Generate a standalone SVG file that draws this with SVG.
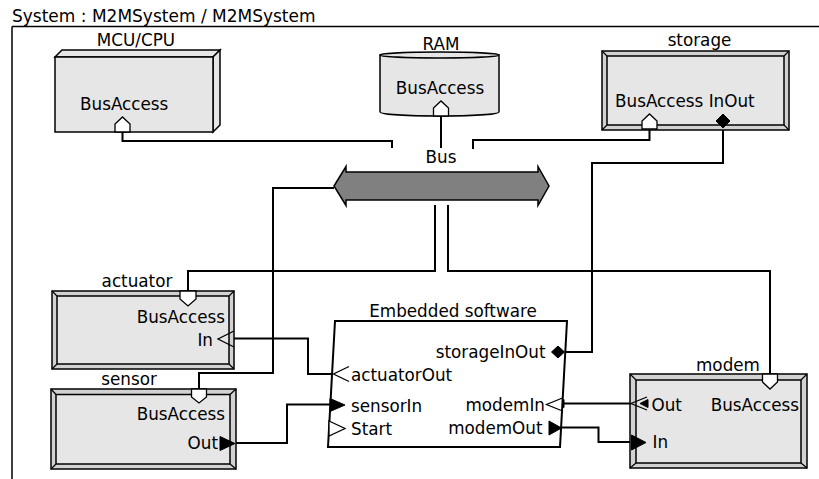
<svg xmlns="http://www.w3.org/2000/svg" width="819" height="479" viewBox="0 0 819 479">
  <style>
    text { font-family: "DejaVu Sans", "Liberation Sans", sans-serif; font-size: 16.8px; fill: #000; }
    .mid { text-anchor: middle; }
    .end { text-anchor: end; }
    .face { fill: #e6e6e6; stroke: #000; stroke-width: 1.5; }
    .bevel { fill: #d2d2d2; stroke: #000; stroke-width: 1.5; }
    .edge { fill: none; stroke: #000; stroke-width: 1.2; }
    .port { fill: #fff; stroke: #000; stroke-width: 1.3; }
    .open { fill: none; stroke: #000; stroke-width: 1.3; }
    .solid { fill: #000; stroke: #000; stroke-width: 1; }
    .wire { fill: none; stroke: #000; stroke-width: 2; }
  </style>

  <!-- system frame -->
  <g id="frame">
    <text x="12" y="22" style="font-size:17px">System : M2MSystem / M2MSystem</text>
    <path d="M12,26.5 H819 M12,26.5 V479" fill="none" stroke="#000" stroke-width="1.5"/>
  </g>

  <!-- connectors -->
  <g id="connectors" class="wire">
    <polyline class="wire" points="122.5,132 122.5,141 392,141 392,148"/>
    <polyline class="wire" points="441,116 441,148"/>
    <polyline class="wire" points="649.5,129 649.5,140 473,140 473,149"/>
    <polyline class="wire" points="723,128 723,163 592,163 592,352 564.5,352"/>
    <polyline class="wire" points="334,188 273,188 273,373 199,373 199,389"/>
    <polyline class="wire" points="435,205 435,271 188,271 188,291"/>
    <polyline class="wire" points="448,205 448,271 770,271 770,374"/>
    <polyline class="wire" points="333.5,374 308,374 308,338.5 234,338.5"/>
    <polyline class="wire" points="235,443 287,443 287,404.5 330,404.5"/>
    <polyline class="wire" points="631,403.5 563,403.5"/>
    <polygon class="solid" points="556,403.5 564,399.5 564,407.5"/>
    <polyline class="wire" points="561.5,427.5 598.5,427.5 598.5,442 631.5,442"/>
  </g>

  <!-- MCU/CPU -->
  <g id="mcu">
    <polygon class="face" points="55,57 62,50 220,50 213,57"/>
    <polygon class="face" points="213,57 220,50 220,125 213,132"/>
    <rect class="face" x="55" y="57" width="158" height="75"/>
    <text class="mid" x="136" y="46">MCU/CPU</text>
    <text x="80" y="110">BusAccess</text>
    <polygon class="port" points="115,132 115,124 122.5,117 130,124 130,132"/>
  </g>

  <!-- RAM -->
  <g id="ram">
    <path class="face" d="M380,55 V112 A59.5,4 0 0 0 499,112 V55 Z"/>
    <ellipse class="face" cx="439.5" cy="55" rx="59.5" ry="3"/>
    <text class="mid" x="441" y="50">RAM</text>
    <text class="mid" x="440" y="94">BusAccess</text>
    <polygon class="port" points="433.5,116 433.5,108 441,101 448.5,108 448.5,116"/>
  </g>

  <!-- storage -->
  <g id="storage">
    <rect class="bevel" x="602" y="51" width="187" height="79"/>
    <rect class="face" x="607" y="56" width="177" height="69"/>
    <path class="edge" d="M602,51 L607,56 M789,51 L784,56 M602,130 L607,125 M789,130 L784,125"/>
    <text class="mid" x="699.5" y="46">storage</text>
    <text x="615" y="107">BusAccess InOut</text>
    <polygon class="port" points="642,129 642,121 649.5,114 657,121 657,129"/>
    <polygon class="solid" points="723,114 730,121 723,128 716,121"/>
  </g>

  <!-- Bus -->
  <g id="bus">
    <polygon points="334,186 346,166.5 346,172 538,172 538,166.5 549,186 538,205.5 538,200 346,200 346,205.5" fill="#808080" stroke="#000" stroke-width="1.5"/>
    <text class="mid" x="441" y="163">Bus</text>
  </g>

  <!-- actuator -->
  <g id="actuator">
    <rect class="bevel" x="52" y="291" width="182" height="78"/>
    <rect class="face" x="57" y="296" width="172" height="68"/>
    <path class="edge" d="M52,291 L57,296 M234,291 L229,296 M52,369 L57,364 M234,369 L229,364"/>
    <text class="mid" x="137" y="287">actuator</text>
    <text class="end" x="225" y="323">BusAccess</text>
    <text class="end" x="213" y="346">In</text>
    <polygon class="port" points="180,291 196,291 196,299 188,306 180,299"/>
    <polyline class="open" points="234,331 218,339 234,347"/>
  </g>

  <!-- sensor -->
  <g id="sensor">
    <rect class="bevel" x="51" y="389" width="185" height="80"/>
    <rect class="face" x="56" y="394.5" width="174" height="69.5"/>
    <path class="edge" d="M51,389 L56,394.5 M236,389 L230,394.5 M51,469 L56,464 M236,469 L230,464"/>
    <text class="mid" x="129" y="385">sensor</text>
    <text class="end" x="225" y="420">BusAccess</text>
    <text class="end" x="218" y="449">Out</text>
    <polygon class="port" points="191.5,389 206.5,389 206.5,397 199,403 191.5,397"/>
    <polygon class="solid" points="220,436.5 235,443.5 220,450.5"/>
  </g>

  <!-- Embedded software -->
  <g id="embedded">
    <polygon points="335,321 567,321 560,447 328,447" fill="#fff" stroke="#000" stroke-width="2"/>
    <text class="mid" x="453" y="317">Embedded software</text>
    <text class="end" x="545.5" y="358">storageInOut</text>
    <polygon class="solid" points="551.5,352 558,346 564.5,352 558,358"/>
    <text x="351" y="381">actuatorOut</text>
    <polyline class="open" points="349,366.5 333.5,374 349,381.5"/>
    <text x="351" y="411.5">sensorIn</text>
    <polygon class="solid" points="330,398.5 345,405 330,411.5"/>
    <text x="351" y="435">Start</text>
    <polygon class="port" points="329,421 345,428.5 329,436"/>
    <text class="end" x="545" y="411">modemIn</text>
    <polyline class="open" points="562.5,398 546.5,404.5 562.5,411"/>
    <text class="end" x="542.5" y="433.5">modemOut</text>
    <polygon class="solid" points="549,421 561.5,428 549,435"/>
  </g>

  <!-- modem -->
  <g id="modem">
    <rect class="bevel" x="630" y="374" width="177" height="94"/>
    <rect class="face" x="636" y="380" width="165" height="83"/>
    <path class="edge" d="M630,374 L636,380 M807,374 L801,380 M630,468 L636,463 M807,468 L801,463"/>
    <text class="mid" x="728" y="370.5">modem</text>
    <text x="651.5" y="411">Out</text>
    <text class="end" x="799" y="411">BusAccess</text>
    <text x="652.5" y="448">In</text>
    <polygon class="port" points="762.5,374 777.5,374 777.5,382 770,389 762.5,382"/>
    <polyline class="open" points="647,397 631,403.5 647,410"/>
    <polygon class="solid" points="640,403.5 648,399.5 648,407.5"/>
    <polygon class="solid" points="631.5,435 646,442.5 631.5,450"/>
  </g>
</svg>
